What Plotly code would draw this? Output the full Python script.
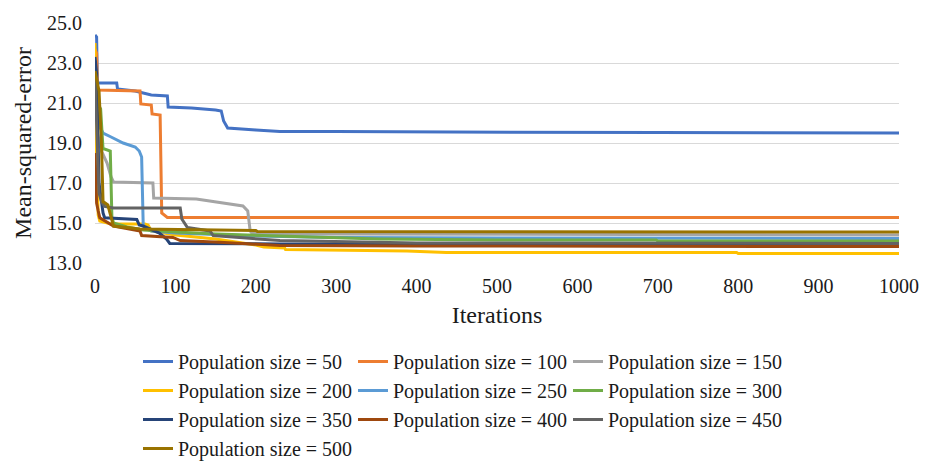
import plotly.graph_objects as go

names = ["Population size = 50", "Population size = 100", "Population size = 150",
         "Population size = 200", "Population size = 250", "Population size = 300",
         "Population size = 350", "Population size = 400", "Population size = 450",
         "Population size = 500"]
colors = ["#4472C4", "#ED7D31", "#A5A5A5", "#FFC000", "#5B9BD5", "#70AD47",
          "#264478", "#9E480E", "#636363", "#997300"]

it_50 = [0, 2, 3, 27, 28, 50, 70, 90, 91, 120, 150, 157, 160, 165, 200, 230, 300, 500, 700, 1000]
mse_50 = [24.4, 24.3, 22.0, 22.0, 21.7, 21.6, 21.4, 21.35, 20.8, 20.75, 20.65, 20.6, 20.1, 19.75, 19.65, 19.58, 19.57, 19.53, 19.52, 19.5]

it_100 = [0, 2, 3, 56, 57, 70, 71, 81, 83, 88, 90, 1000]
mse_100 = [23.7, 23.5, 21.65, 21.6, 20.95, 20.9, 20.45, 20.4, 15.5, 15.35, 15.28, 15.28]

it_150 = [0, 3, 8, 15, 20, 23, 72, 73, 126, 150, 184, 190, 193, 195, 250, 1000]
mse_150 = [22.5, 19.5, 18.6, 18.0, 17.3, 17.05, 17.0, 16.25, 16.2, 16.05, 15.85, 15.6, 14.6, 14.5, 14.45, 14.4]

it_200 = [0, 2, 4, 6, 20, 62, 66, 70, 100, 150, 200, 210, 236, 237, 388, 437, 798, 800, 1000]
mse_200 = [24.0, 18.0, 15.4, 15.1, 14.95, 14.95, 14.9, 14.6, 14.4, 14.2, 13.9, 13.8, 13.75, 13.67, 13.6, 13.53, 13.52, 13.47, 13.47]

it_250 = [0, 3, 6, 10, 20, 35, 50, 55, 58, 60, 62, 70, 100, 200, 300, 500, 1000]
mse_250 = [22.0, 20.5, 19.8, 19.5, 19.3, 19.0, 18.8, 18.6, 18.3, 14.85, 14.75, 14.6, 14.5, 14.35, 14.28, 14.25, 14.23]

it_300 = [0, 3, 7, 10, 12, 19, 21, 23, 40, 60, 100, 150, 228, 353, 500, 698, 700, 1000]
mse_300 = [22.0, 21.0, 20.7, 18.7, 18.7, 18.6, 15.3, 15.0, 14.8, 14.65, 14.55, 14.45, 14.35, 14.2, 14.15, 14.15, 14.1, 14.1]

it_350 = [0, 2, 5, 10, 12, 30, 52, 55, 60, 80, 89, 93, 230, 1000]
mse_350 = [23.3, 22.5, 17.0, 15.5, 15.26, 15.22, 15.18, 14.9, 14.85, 14.5, 14.2, 13.98, 13.95, 13.93]

it_400 = [0, 2, 4, 6, 23, 56, 58, 97, 106, 155, 230, 400, 1000]
mse_400 = [18.5, 16.0, 15.6, 15.26, 14.85, 14.6, 14.37, 14.28, 14.12, 14.04, 13.88, 13.85, 13.82]

it_450 = [0, 3, 5, 8, 12, 23, 106, 108, 115, 143, 147, 230, 400, 1000]
mse_450 = [22.3, 19.0, 16.5, 16.07, 15.83, 15.75, 15.75, 15.2, 14.77, 14.6, 14.37, 14.12, 14.0, 13.98]

it_500 = [0, 5, 8, 10, 16, 21, 23, 56, 200, 202, 1000]
mse_500 = [22.6, 21.6, 19.0, 16.07, 15.9, 15.2, 14.85, 14.7, 14.62, 14.57, 14.55]

xs = [it_50, it_100, it_150, it_200, it_250, it_300, it_350, it_400, it_450, it_500]
ys = [mse_50, mse_100, mse_150, mse_200, mse_250, mse_300, mse_350, mse_400, mse_450, mse_500]

y_ticks = [13, 15, 17, 19, 21, 23, 25]
x_ticks = list(range(0, 1001, 100))

FONT = "Liberation Serif"

fig = go.Figure()
for n, c, x, y in zip(names, colors, xs, ys):
    fig.add_trace(go.Scatter(x=x, y=y, mode="lines", name=n,
                             line=dict(color=c, width=3)))

fig.update_layout(
    width=933, height=468,
    margin=dict(l=95, r=34, t=17, b=205),
    paper_bgcolor="white", plot_bgcolor="white",
    font=dict(family=FONT, size=20, color="#1a1a1a"),
    showlegend=True,
    legend=dict(orientation="h", xref="container", yref="container",
                x=138 / 933, xanchor="left", y=1 - 342 / 468, yanchor="top",
                entrywidth=170, entrywidthmode="pixels", traceorder="normal",
                font=dict(family=FONT, size=20, color="#1a1a1a"),
                itemwidth=30),
)
fig.update_xaxes(range=[0, 1000], tickvals=x_ticks, ticktext=[str(v) for v in x_ticks],
                 showgrid=False, zeroline=False, showline=False,
                 title=dict(text="Iterations", standoff=10),
                 ticks="", ticklabelstandoff=9)
fig.update_yaxes(range=[13, 25], tickvals=y_ticks, ticktext=[f"{v:.1f}" for v in y_ticks],
                 showgrid=True, gridcolor="#D9D9D9", gridwidth=1.3, zeroline=False,
                 showline=False, title=dict(text="Mean-squared-error", standoff=8),
                 ticks="", ticklabelstandoff=12)

fig.write_html("out.html")
